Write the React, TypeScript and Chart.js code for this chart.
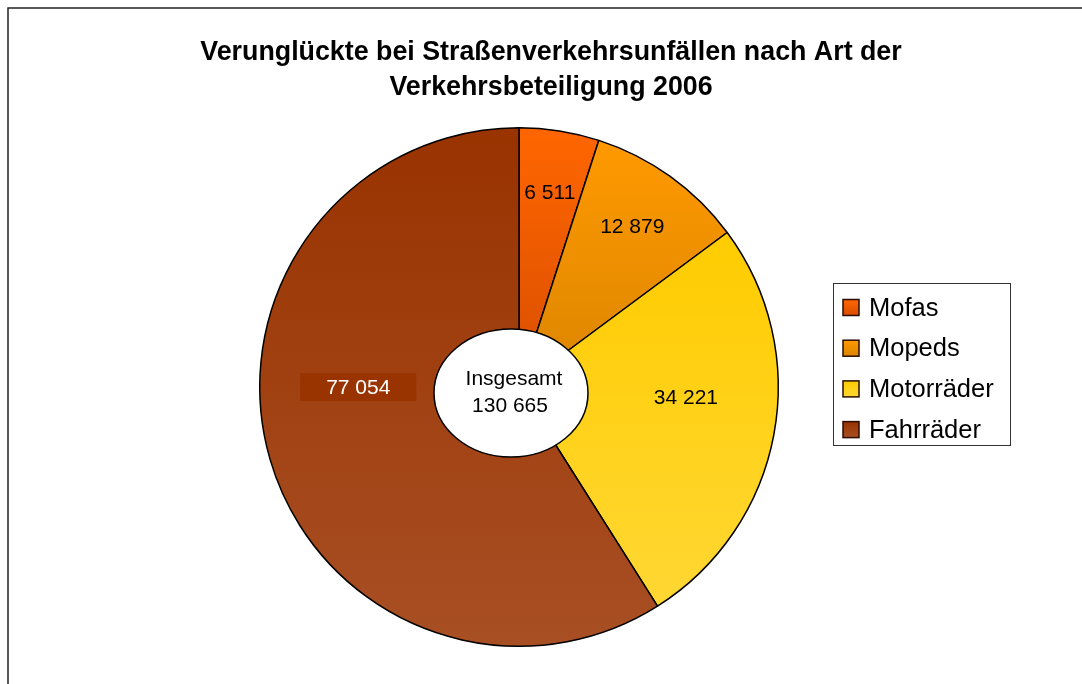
import React, { useEffect, useRef } from "react";
import { Chart, registerables } from "chart.js";

Chart.register(...registerables);

// ---- data ----
const TITLE_LINES = [
  "Verunglückte bei Straßenverkehrsunfällen nach Art der",
  "Verkehrsbeteiligung 2006",
];
const CATEGORIES = ["Mofas", "Mopeds", "Motorräder", "Fahrräder"];
const VALUES = [6511, 12879, 34221, 77054];
const VALUE_LABELS = ["6 511", "12 879", "34 221", "77 054"];
const TOTAL_LABEL = ["Insgesamt", "130 665"];

// ---- styles ----
const FONT = "'Liberation Sans', Arial, sans-serif";
// vertical gradient per slice: colours and extent as fractions of the pie height
const GRADIENTS = [
  { top: "#FF6600", bottom: "#D94E00", from: 0.0, to: 0.5 },
  { top: "#FF9900", bottom: "#DB8500", from: 0.03, to: 0.5 },
  { top: "#FFCC00", bottom: "#FFD733", from: 0.2, to: 0.92 },
  { top: "#993300", bottom: "#A84F24", from: 0.0, to: 1.0 },
];
// label placement: angle (deg, clockwise from top) and radius fraction
const LABEL_POLAR = [
  [9.0, 0.76],
  [35.1, 0.76],
  [93.4, 0.645],
  [270, 0.62],
];
const LABEL_COLORS = ["#000", "#000", "#000", "#fff"];
const LABEL_BOX = [null, null, null, "#993300"];

const decorPlugin = {
  id: "decor",
  beforeDraw(chart: any) {
    const ctx = chart.ctx as CanvasRenderingContext2D;
    ctx.save();
    ctx.fillStyle = "#fff";
    ctx.fillRect(0, 0, chart.width, chart.height);
    // frame (left + top visible)
    ctx.strokeStyle = "#222";
    ctx.lineWidth = 1.5;
    ctx.beginPath();
    ctx.moveTo(8, chart.height + 5);
    ctx.lineTo(8, 8);
    ctx.lineTo(chart.width + 5, 8);
    ctx.stroke();
    // title
    ctx.fillStyle = "#000";
    ctx.font = `bold 26.8px ${FONT}`;
    ctx.textAlign = "center";
    ctx.textBaseline = "middle";
    TITLE_LINES.forEach((line, i) => ctx.fillText(line, 551, 53 + i * 35));
    ctx.restore();
  },
  afterDraw(chart: any) {
    const ctx = chart.ctx as CanvasRenderingContext2D;
    const meta = chart.getDatasetMeta(0);
    const arc0 = meta.data[0];
    if (!arc0) return;
    const cx = arc0.x;
    const cy = arc0.y;
    const R = arc0.outerRadius;
    ctx.save();
    // value labels
    ctx.font = `21px ${FONT}`;
    ctx.textAlign = "center";
    ctx.textBaseline = "middle";
    VALUE_LABELS.forEach((txt, i) => {
      const [deg, rf] = LABEL_POLAR[i];
      const a = (deg * Math.PI) / 180;
      const x = cx + Math.sin(a) * R * rf;
      const y = cy - Math.cos(a) * R * rf;
      const box = LABEL_BOX[i];
      if (box) {
        ctx.fillStyle = box;
        ctx.fillRect(x - 58, y - 14, 116, 28);
      }
      ctx.fillStyle = LABEL_COLORS[i];
      ctx.fillText(txt, x, y + 1);
    });
    // centre ellipse
    const ex = cx - 8;
    const ey = cy + 6;
    ctx.beginPath();
    ctx.ellipse(ex, ey, 77, 64, 0, 0, Math.PI * 2);
    ctx.fillStyle = "#fff";
    ctx.fill();
    ctx.lineWidth = 1.5;
    ctx.strokeStyle = "#000";
    ctx.stroke();
    ctx.fillStyle = "#000";
    ctx.fillText(TOTAL_LABEL[0], ex + 3, ey - 14);
    ctx.fillText(TOTAL_LABEL[1], ex - 1, ey + 13);

    // legend
    const lx = 833.5, ly = 283.5, lw = 177, lh = 162;
    ctx.lineWidth = 1;
    ctx.strokeStyle = "#333";
    ctx.strokeRect(lx, ly, lw, lh);
    ctx.font = `25.5px ${FONT}`;
    ctx.textAlign = "left";
    const labels: string[] = chart.data.labels;
    labels.forEach((lab, i) => {
      const yc = 307.5 + i * 40.7;
      const g = GRADIENTS[i];
      const grd = ctx.createLinearGradient(0, yc - 8, 0, yc + 8);
      grd.addColorStop(0, g.top);
      grd.addColorStop(1, g.bottom);
      ctx.fillStyle = grd;
      ctx.fillRect(843, yc - 8, 16, 16);
      ctx.strokeStyle = "#2a0d00";
      ctx.lineWidth = 1.5;
      ctx.strokeRect(843, yc - 8, 16, 16);
      ctx.fillStyle = "#000";
      ctx.fillText(lab, 869, yc + 1);
    });
    ctx.restore();
  },
};

export default function App() {
  const ref = useRef<HTMLCanvasElement | null>(null);
  useEffect(() => {
    if (!ref.current) return;
    const chart = new Chart(ref.current, {
      type: "pie",
      data: {
        labels: CATEGORIES,
        datasets: [
          {
            data: VALUES,
            backgroundColor: (c: any) => {
              const g = GRADIENTS[c.dataIndex];
              const ca = c.chart.chartArea;
              if (!ca || !g) return g ? g.top : "#999";
              const h = ca.bottom - ca.top;
              const grd = c.chart.ctx.createLinearGradient(0, ca.top + g.from * h, 0, ca.top + g.to * h);
              grd.addColorStop(0, g.top);
              grd.addColorStop(1, g.bottom);
              return grd;
            },
            borderColor: "#000",
            borderWidth: 1.5,
          },
        ],
      },
      options: {
        responsive: false,
        animation: false,
        layout: { padding: { left: 259, right: 303, top: 127, bottom: 37 } },
        plugins: {
          legend: { display: false },
          title: { display: false },
          tooltip: { enabled: false },
        },
      },
      plugins: [decorPlugin],
    });
    return () => chart.destroy();
  }, []);
  return (
    <div style={{ position: "fixed", left: 0, top: 0, width: 1082, height: 684, background: "#fff" }}>
      <canvas ref={ref} width={1082} height={684} style={{ display: "block" }} />
    </div>
  );
}
